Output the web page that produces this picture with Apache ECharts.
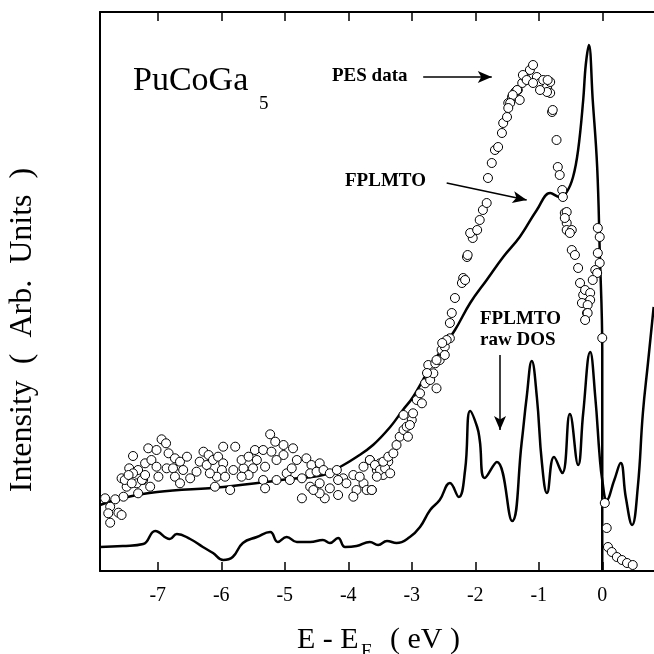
<!DOCTYPE html>
<html>
<head>
<meta charset="utf-8">
<script src="https://cdn.jsdelivr.net/npm/echarts@6/dist/echarts.min.js"></script>
<style>
  html, body { margin: 0; padding: 0; background: #fff; }
  #chart { width: 654px; height: 654px; }
</style>
</head>
<body>
<div id="chart"></div>
<script>
// ---- data (energy in eV, intensity in arbitrary units) ----
const energyTicks = [-7, -6, -5, -4, -3, -2, -1, 0];
const energyRange = [-7.91, 0.815];
const intensityRange = [0, 559];

// Broadened FPLMTO spectrum [E, I]
const fplmtoData = [
  [-7.91, 66], [-7.55, 73], [-7.01, 79], [-5.97, 84], [-4.92, 92], [-4.40, 96],
  [-4.13, 104], [-3.87, 114], [-3.61, 126], [-3.34, 144], [-3.14, 161], [-2.98, 174],
  [-2.67, 208], [-2.32, 241], [-2.08, 268], [-1.82, 291], [-1.56, 314], [-1.30, 334],
  [-1.03, 361], [-0.82, 378], [-0.67, 374], [-0.56, 379], [-0.46, 394], [-0.38, 421],
  [-0.30, 471], [-0.26, 506], [-0.21, 526], [-0.15, 471], [-0.08, 404], [-0.04, 321],
  [0.00, 221], [0.00, 0]
];

// FPLMTO raw DOS [E, I]
const rawDosData = [
  [-7.91, 24], [-7.55, 25], [-7.23, 27], [-7.04, 40], [-6.81, 32], [-6.70, 37],
  [-6.49, 32], [-6.29, 24], [-6.13, 18], [-5.97, 11], [-5.82, 14], [-5.66, 28],
  [-5.44, 34], [-5.23, 39], [-5.11, 29], [-4.97, 34], [-4.81, 29], [-4.60, 29],
  [-4.40, 31], [-4.29, 28], [-4.16, 33], [-4.05, 24], [-3.87, 25], [-3.66, 29],
  [-3.53, 26], [-3.39, 30], [-3.24, 28], [-3.03, 34], [-2.87, 44], [-2.71, 61],
  [-2.56, 71], [-2.40, 88], [-2.26, 74], [-2.16, 101], [-2.08, 160], [-1.97, 144],
  [-1.93, 131], [-1.85, 93], [-1.66, 109], [-1.42, 50], [-1.27, 128], [-1.19, 174],
  [-1.11, 210], [-1.03, 174], [-0.95, 108], [-0.87, 78], [-0.76, 114], [-0.63, 98],
  [-0.51, 157], [-0.38, 106], [-0.30, 158], [-0.19, 219], [-0.11, 174], [-0.04, 114],
  [0.00, 91], [0.07, 71], [0.19, 91], [0.29, 108], [0.37, 74], [0.47, 46],
  [0.56, 84], [0.64, 158], [0.72, 208], [0.81, 264]
];

// PES data points [E, I]
const pesData = [
  [-6.94, 131.7], [-6.87, 127.7], [-7.39, 115], [-7.15, 122.7], [-7.02, 121], [-6.83, 117.7],
  [-6.73, 112.7], [-7.45, 102.7], [-7.57, 92.7], [-7.49, 84.3], [-7.31, 101], [-7.20, 107.7],
  [-7.10, 111], [-7.02, 104.3], [-7.23, 91], [-7.33, 87.7], [-7.12, 84.3], [-6.99, 94.3],
  [-6.86, 102.7], [-6.76, 102.7], [-6.65, 109.3], [-6.54, 114.3], [-6.60, 101], [-6.73, 94.3],
  [-6.65, 87.7], [-6.49, 92.7], [-6.39, 99.3], [-6.28, 119.3], [-6.20, 116], [-6.34, 109.3],
  [-6.23, 106], [-6.13, 111], [-6.05, 114.3], [-5.97, 124.3], [-5.78, 124.3], [-5.97, 107.7],
  [-5.99, 101], [-6.07, 94.3], [-6.18, 97.7], [-5.94, 94.3], [-6.10, 84.3], [-5.86, 81],
  [-5.81, 101], [-5.65, 102.7], [-5.68, 111], [-5.57, 114.3], [-5.47, 121], [-5.34, 121],
  [-5.21, 119.3], [-5.23, 136.7], [-5.15, 129.3], [-5.02, 126], [-4.87, 122.7], [-5.02, 116],
  [-5.13, 111], [-5.31, 104.3], [-5.44, 111], [-5.50, 102.7], [-5.57, 96], [-5.68, 94.3],
  [-5.34, 91], [-5.31, 82.7], [-5.13, 91], [-4.97, 97.7], [-4.89, 102.7], [-4.81, 111],
  [-4.92, 91], [-4.73, 92.7], [-4.66, 112.7], [-4.58, 106], [-4.45, 107.7], [-4.60, 97.7],
  [-4.50, 99.3], [-4.39, 101], [-4.73, 72.7], [-4.60, 84.3], [-4.45, 87.7], [-4.37, 72.7],
  [-4.29, 97.7], [-4.18, 101], [-4.29, 82.7], [-4.16, 76], [-4.08, 92.7], [-4.03, 87.7],
  [-3.92, 96], [-3.87, 81], [-3.92, 74.3], [-3.76, 87.7], [-3.71, 81], [-3.66, 111],
  [-3.63, 81], [-3.55, 101], [-3.50, 107.7], [-3.45, 96], [-3.37, 109.3], [-3.76, 104.3],
  [-3.82, 94.3], [-4.16, 91], [-4.45, 77.7], [-4.55, 81],
  [-7.83, 72.7], [-7.67, 71.7], [-7.75, 64.3], [-7.78, 57.7], [-7.62, 58.3], [-7.57, 56],
  [-7.75, 48.3], [-7.54, 74.3], [-7.52, 91], [-7.39, 97.7], [-7.46, 96], [-7.41, 87.7],
  [-7.25, 91], [-7.20, 96], [-7.31, 77.7],
  [-3.66, 111], [-3.58, 106], [-3.50, 101], [-3.42, 102.7], [-3.34, 97.7], [-3.55, 94.3],
  [-3.63, 81], [-3.45, 109.3], [-3.37, 114.3], [-3.29, 117.7], [-3.24, 126], [-3.19, 134.3],
  [-3.13, 141], [-3.08, 144.3], [-3.00, 151], [-3.06, 134.3], [-3.13, 156], [-2.98, 157.7],
  [-3.03, 146], [-2.92, 171], [-2.84, 167.7], [-2.87, 177.7], [-2.79, 187.7], [-2.71, 191],
  [-2.66, 197.7], [-2.61, 182.7], [-2.74, 206], [-2.63, 207.7], [-2.56, 211], [-2.53, 221],
  [-2.48, 224.3], [-2.40, 232.7], [-2.48, 216], [-2.76, 198], [-2.61, 211], [-2.45, 231],
  [-2.52, 228], [-2.37, 258], [-2.40, 248], [-2.32, 273], [-2.19, 293], [-2.21, 288],
  [-2.16, 291], [-2.13, 314], [-2.12, 316], [-2.04, 333], [-2.08, 338], [-1.97, 341],
  [-1.93, 351], [-1.88, 361], [-1.82, 368], [-1.80, 393], [-1.74, 408], [-1.69, 421],
  [-1.64, 424], [-1.58, 438], [-1.56, 448], [-1.50, 454], [-1.48, 468], [-1.42, 474],
  [-1.37, 479], [-1.33, 481], [-1.26, 488], [-1.22, 494], [-1.14, 501], [-1.09, 506],
  [-1.03, 494], [-0.98, 488], [-0.93, 491], [-0.87, 484], [-0.82, 478], [-0.79, 459],
  [-1.25, 496], [-1.19, 491], [-0.82, 489], [-0.87, 479], [-0.98, 481], [-1.09, 488],
  [-1.34, 481], [-1.30, 471], [-1.41, 476], [-1.45, 468], [-1.48, 463], [-0.86, 491],
  [-0.78, 461], [-0.72, 431], [-0.70, 404], [-0.67, 396], [-0.63, 381], [-0.62, 374],
  [-0.59, 358], [-0.56, 348], [-0.56, 359], [-0.59, 353], [-0.56, 341], [-0.48, 341],
  [-0.51, 338], [-0.48, 321], [-0.43, 316], [-0.38, 303], [-0.35, 288], [-0.30, 276],
  [-0.32, 268], [-0.27, 281], [-0.19, 278], [-0.19, 271], [-0.23, 266], [-0.24, 258],
  [-0.23, 258], [-0.27, 251], [-0.07, 343], [-0.04, 334], [-0.07, 318], [-0.04, 308],
  [-0.11, 301], [-0.08, 298], [-0.15, 291], [0.00, 233],
  [0.04, 68], [0.07, 43], [0.09, 24], [0.15, 19], [0.23, 14], [0.31, 11], [0.39, 8], [0.48, 6]
];

// Annotation arrows [tail, head] in data coordinates
const pesArrow = [[-2.82, 494], [-1.74, 494]];
const fplmtoArrow = [[-2.45, 388], [-1.19, 371]];
const rawDosArrow = [[-1.61, 216], [-1.61, 141]];

const SERIF = "'Liberation Serif', 'Times New Roman', serif";

function arrowLine(pair) {
  return [{ coord: pair[0], symbol: 'none' }, { coord: pair[1], symbol: 'arrow' }];
}

const chart = echarts.init(document.getElementById('chart'), null, { renderer: 'canvas' });

const axisTickCommon = {
  show: true, inside: true, length: 9,
  customValues: energyTicks,
  lineStyle: { color: '#000', width: 1.5 }
};

function txt(x, y, text, font, align, extra) {
  return Object.assign({
    type: 'text', x: x, y: y,
    style: {
      text: text, font: font, fill: '#000',
      align: align || 'left', verticalAlign: 'middle',
      textAlign: align || 'left', textVerticalAlign: 'middle'
    }
  }, extra || {});
}

chart.setOption({
  animation: false,
  backgroundColor: '#fff',
  grid: { left: 100, right: 0, top: 12, bottom: 83 },
  xAxis: [
    {
      type: 'value', position: 'bottom',
      min: energyRange[0], max: energyRange[1],
      axisLine: { show: true, onZero: false, lineStyle: { color: '#000', width: 2 } },
      axisTick: axisTickCommon,
      axisLabel: {
        show: true, customValues: energyTicks, color: '#000',
        fontFamily: SERIF, fontSize: 20, margin: 15
      },
      splitLine: { show: false }
    },
    {
      type: 'value', position: 'top',
      min: energyRange[0], max: energyRange[1],
      axisLine: { show: true, onZero: false, lineStyle: { color: '#000', width: 2 } },
      axisTick: axisTickCommon,
      axisLabel: { show: false },
      splitLine: { show: false }
    }
  ],
  yAxis: {
    type: 'value', min: intensityRange[0], max: intensityRange[1],
    axisLine: { show: true, onZero: false, lineStyle: { color: '#000', width: 2 } },
    axisTick: { show: false },
    axisLabel: { show: false },
    splitLine: { show: false }
  },
  series: [
    {
      name: 'FPLMTO raw DOS', type: 'line', data: rawDosData,
      smooth: 0.45, showSymbol: false, symbol: 'none',
      lineStyle: { color: '#000', width: 2.5 }, z: 2
    },
    {
      name: 'FPLMTO', type: 'line', data: fplmtoData,
      smooth: 0.4, showSymbol: false, symbol: 'none',
      lineStyle: { color: '#000', width: 2.5 }, z: 2
    },
    {
      name: 'PES data', type: 'scatter', data: pesData,
      symbol: 'circle', symbolSize: 9,
      itemStyle: { color: '#fff', borderColor: '#000', borderWidth: 1, opacity: 1 },
      z: 3,
      markLine: {
        silent: true, animation: false,
        symbolSize: [9, 14],
        label: { show: false },
        lineStyle: { color: '#000', width: 1.5, type: 'solid' },
        emphasis: { disabled: true },
        data: [arrowLine(pesArrow), arrowLine(fplmtoArrow), arrowLine(rawDosArrow)]
      }
    }
  ],
  graphic: [
    txt(133, 81.5, 'PuCoGa', '34px ' + SERIF),
    txt(259, 103.6, '5', '19px ' + SERIF),
    txt(332, 75.6, 'PES data', 'bold 19px ' + SERIF),
    txt(345, 180.6, 'FPLMTO', 'bold 19px ' + SERIF),
    txt(480, 318.6, 'FPLMTO', 'bold 19px ' + SERIF),
    txt(480, 339.6, 'raw DOS', 'bold 19px ' + SERIF),
    txt(297, 640, 'E - E', '30px ' + SERIF),
    txt(361, 652, 'F', '19px ' + SERIF),
    txt(390, 640, '( eV )', '30px ' + SERIF),
    txt(23, 330, 'Intensity  (  Arb.  Units  )', '32px ' + SERIF, 'center', { rotation: Math.PI / 2 })
  ]
});
</script>
</body>
</html>
